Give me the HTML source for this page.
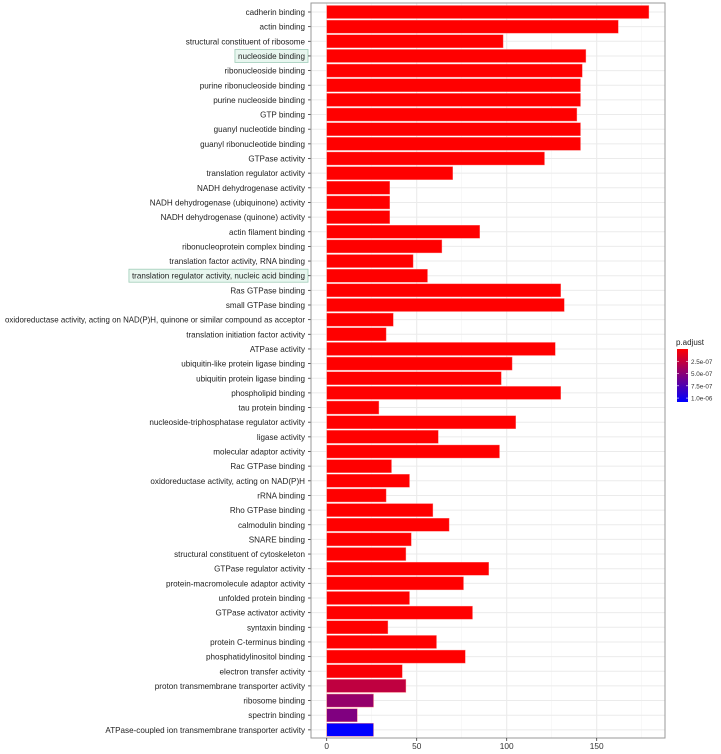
<!DOCTYPE html>
<html><head><meta charset="utf-8"><style>
body{margin:0;background:#fff;}
svg{display:block;font-family:"Liberation Sans",Arial,sans-serif;}
</style></head><body>
<svg id="chart" width="721" height="754" viewBox="0 0 721 754"></svg>
<script>
const categories=["cadherin binding","actin binding","structural constituent of ribosome","nucleoside binding","ribonucleoside binding","purine ribonucleoside binding","purine nucleoside binding","GTP binding","guanyl nucleotide binding","guanyl ribonucleotide binding","GTPase activity","translation regulator activity","NADH dehydrogenase activity","NADH dehydrogenase (ubiquinone) activity","NADH dehydrogenase (quinone) activity","actin filament binding","ribonucleoprotein complex binding","translation factor activity, RNA binding","translation regulator activity, nucleic acid binding","Ras GTPase binding","small GTPase binding","oxidoreductase activity, acting on NAD(P)H, quinone or similar compound as acceptor","translation initiation factor activity","ATPase activity","ubiquitin-like protein ligase binding","ubiquitin protein ligase binding","phospholipid binding","tau protein binding","nucleoside-triphosphatase regulator activity","ligase activity","molecular adaptor activity","Rac GTPase binding","oxidoreductase activity, acting on NAD(P)H","rRNA binding","Rho GTPase binding","calmodulin binding","SNARE binding","structural constituent of cytoskeleton","GTPase regulator activity","protein-macromolecule adaptor activity","unfolded protein binding","GTPase activator activity","syntaxin binding","protein C-terminus binding","phosphatidylinositol binding","electron transfer activity","proton transmembrane transporter activity","ribosome binding","spectrin binding","ATPase-coupled ion transmembrane transporter activity"];
const counts=[179,162,98,144,142,141,141,139,141,141,121,70,35,35,35,85,64,48,56,130,132,37,33,127,103,97,130,29,105,62,96,36,46,33,59,68,47,44,90,76,46,81,34,61,77,42,44,26,17,26];
const padj=[1e-12,1e-12,1e-12,1e-12,1e-12,1e-12,1e-12,1e-12,1e-12,1e-12,1e-12,1e-12,1e-12,1e-12,1e-12,1e-12,1e-12,1e-12,1e-12,1e-12,1e-12,1e-12,1e-12,1e-12,1e-12,1e-12,1e-12,1e-12,1e-12,1e-12,1e-12,1e-12,1e-12,1e-12,1e-12,1e-12,1e-12,1e-12,1e-12,1e-12,1e-12,1e-12,1e-12,1e-12,1e-12,2e-8,2.7e-7,4.5e-7,5.4e-7,1.08e-6];
const xTicks=[0,50,100,150];
const xTickLabels=["0","50","100","150"];
const legendTicks=[2.5e-7,5e-7,7.5e-7,1e-6];
const legendLabels=["2.5e-07","5.0e-07","7.5e-07","1.0e-06"];
const highlighted=[3,18];

const NS="http://www.w3.org/2000/svg";
const svg=document.getElementById('chart');
function mk(t,a,p){const e=document.createElementNS(NS,t);for(const k in a)e.setAttribute(k,a[k]);(p||svg).appendChild(e);return e;}
const PL=311,PR=665,PT=3,PB=738;
const x=v=>326.7+v*1.8;
const y=i=>12+i*14.65;
const pMin=0,pMax=1.08e-6;
function col(p){const t=Math.max(0,Math.min(1,(p-pMin)/(pMax-pMin)));return `rgb(${Math.round(255*(1-t))},0,${Math.round(255*t)})`;}

const panel=mk('rect',{x:PL,y:PT,width:PR-PL,height:PB-PT,fill:'#fff'});


[25,75,125,175].forEach(v=>{const l=mk('line',{x1:x(v),x2:x(v),y1:PT,y2:PB,stroke:'#f4f4f4','stroke-width':0.6});

});
xTicks.forEach(v=>{const l=mk('line',{x1:x(v),x2:x(v),y1:PT,y2:PB,stroke:'#ebebeb','stroke-width':1.1});

});
categories.forEach((c,i)=>{const l=mk('line',{x1:PL,x2:PR,y1:y(i),y2:y(i),stroke:'#ebebeb','stroke-width':1});

});
const labelLayer=mk('g',{});
categories.forEach((c,i)=>{
 const b=mk('rect',{x:x(0),y:y(i)-6.5,width:x(counts[i])-x(0),height:13,fill:col(padj[i]),stroke:'#ff7777','stroke-width':0.4});
 
 
 const t=mk('text',{x:305,y:y(i)+3,'text-anchor':'end','font-size':'8.1',fill:'#222'},labelLayer);
 t.textContent=c;
 
 
 let w=t.getComputedTextLength();
 if(w>300){t.setAttribute('textLength','300');t.setAttribute('lengthAdjust','spacingAndGlyphs');w=300;}
 if(highlighted.includes(i)){
   const h=mk('rect',{x:305-w-3,y:y(i)-6.5,width:w+6,height:13,fill:'#e8f6ef',stroke:'#9fcdb8','stroke-width':0.8});
   labelLayer.insertBefore(h,t);
   
   
 }
 const tk=mk('line',{x1:PL-3,x2:PL,y1:y(i),y2:y(i),stroke:'#333','stroke-width':0.8});
 
 
});
const border=mk('rect',{x:PL,y:PT,width:PR-PL,height:PB-PT,fill:'none',stroke:'#999','stroke-width':1});


xTicks.forEach((v,i)=>{
 const tk=mk('line',{x1:x(v),x2:x(v),y1:PB,y2:PB+3,stroke:'#333','stroke-width':0.8});
 
 
 const t=mk('text',{x:x(v),y:PB+11,'text-anchor':'middle','font-size':'8.3',fill:'#333'});
 t.textContent=xTickLabels[i];
 
 
});
const lg=mk('g',{});


const lt=mk('text',{x:676,y:345,'font-size':'8',fill:'#222'},lg);
lt.textContent='p.adjust';


const defs=mk('defs',{},lg);
const gr=mk('linearGradient',{id:'pg',x1:0,y1:0,x2:0,y2:1},defs);
mk('stop',{offset:'0','stop-color':'#ff0000'},gr);mk('stop',{offset:'1','stop-color':'#0000ff'},gr);
const lyTop=349,lyBot=402;
const ly=p=>lyTop+(p-pMin)/(pMax-pMin)*(lyBot-lyTop);
const bar=mk('rect',{x:677,y:lyTop,width:11,height:lyBot-lyTop,fill:'url(#pg)'},lg);


legendTicks.forEach((v,i)=>{
 mk('line',{x1:677,x2:679,y1:ly(v),y2:ly(v),stroke:'#fff','stroke-width':0.6},lg);
 mk('line',{x1:686,x2:688,y1:ly(v),y2:ly(v),stroke:'#fff','stroke-width':0.6},lg);
 const t=mk('text',{x:691,y:ly(v)+2.5,'font-size':'6.3',fill:'#333'},lg);
 t.textContent=legendLabels[i];
 
 
});
</script>
</body></html>
